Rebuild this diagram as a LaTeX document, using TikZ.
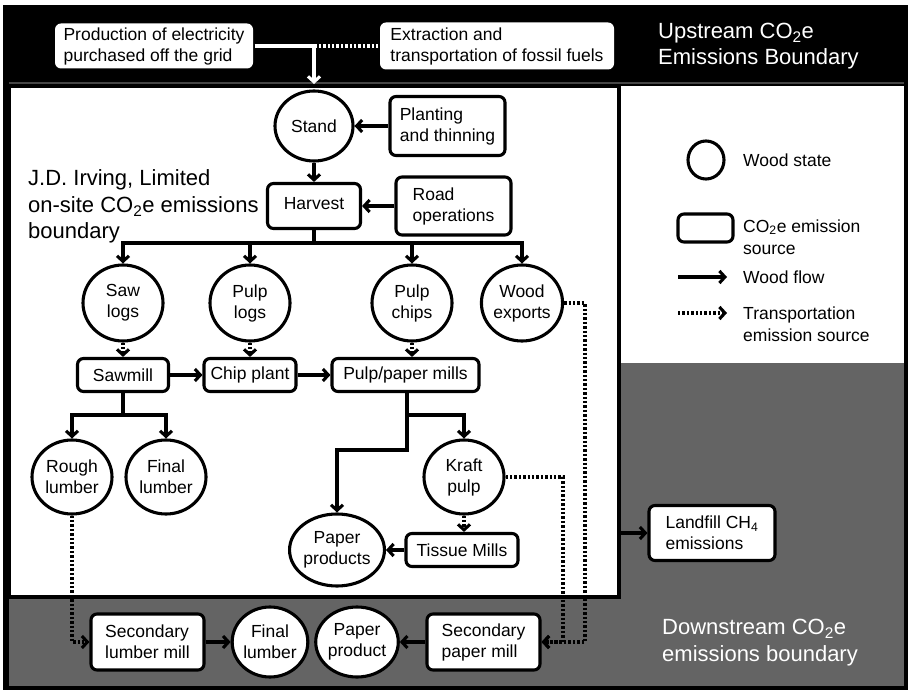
\documentclass[tikz,border=0pt]{standalone}
\usepackage{fontspec}
\setmainfont{Liberation Sans}
\usetikzlibrary{arrows.meta,shapes.geometric}
\definecolor{bggray}{RGB}{100,100,100}
\definecolor{bandline}{RGB}{70,70,70}
\begin{document}
\begin{tikzpicture}[x=1pt,y=-1pt,
  font=\fontsize{17.5}{21}\selectfont,
  lw/.style={line width=3.1pt},
  state/.style={ellipse, draw, lw, fill=white, minimum width=80pt, minimum height=76pt, inner sep=0pt, align=center},
  src/.style={rectangle, rounded corners=6pt, draw, lw, fill=white, inner sep=0pt, align=left},
  flow/.style={lw, -{Straight Barb[length=5.5pt,width=12pt]}},
  trans/.style={lw, dash pattern=on 2.4pt off 2pt, -{Straight Barb[length=5.5pt,width=12pt]}},
  bigtxt/.style={font=\fontsize{22}{26.5}\selectfont, align=left, inner sep=0pt, anchor=base west},
  legtxt/.style={anchor=west, inner sep=0pt, align=left, font=\fontsize{17.5}{22}\selectfont},
]
\useasboundingbox (0,0) rectangle (910,692);
% backgrounds
\fill[black] (3,5) rectangle (908,690);
\fill[bggray] (9,86) rectangle (904,686);
\fill[white] (619,86) rectangle (904,363);
\draw[bandline, line width=1.2pt] (9,83) -- (904,83);
\draw[line width=3.8pt, fill=white] (9,86) rectangle (619,597);

% upstream band
\node[src, draw=none, minimum width=198pt, minimum height=45pt] (prod) at (154,46) {Production of electricity\\purchased off the grid};
\node[src, draw=none, minimum width=234pt, minimum height=47pt] (extr) at (497,46) {Extraction and\\transportation of fossil fuels};
\node[bigtxt, text=white] (up) at (658,65) {Upstream CO\textsubscript{2}e\\Emissions Boundary};

% on-site
\node[bigtxt] (jdi) at (28,239) {J.D. Irving, Limited\\on-site CO\textsubscript{2}e emissions\\boundary};
\node[state, minimum width=78pt, minimum height=70pt] (stand) at (314,126) {Stand};
\node[src, minimum width=115pt, minimum height=59pt] (plant) at (447.5,126) {Planting\\and thinning};
\node[src, minimum width=93pt, minimum height=45pt] (harv) at (314,206) {\raisebox{5pt}{Harvest}};
\node[src, minimum width=115pt, minimum height=58pt] (road) at (453.5,206) {Road\\operations};

\node[state] (saw) at (123,303) {Saw\\logs};
\node[state] (plog) at (250,303) {Pulp\\logs};
\node[state] (pchip) at (412,303) {Pulp\\chips};
\node[state] (wexp) at (522,303) {Wood\\exports};

\node[src, minimum width=91pt, minimum height=33pt] (sawmill) at (123,375) {Sawmill};
\node[src, minimum width=92pt, minimum height=33pt] (chip) at (250,375) {Chip plant};
\node[src, minimum width=147pt, minimum height=33pt] (pulp) at (405.5,375) {Pulp/paper mills};

\node[state, minimum height=74pt] (rough) at (72,477) {Rough\\lumber};
\node[state, minimum height=74pt] (final1) at (166,477) {Final\\lumber};
\node[state, minimum height=74pt] (kraft) at (464,477) {Kraft\\pulp};
\node[state, minimum width=78pt, minimum height=72pt] (paperp) at (337,550) {Paper\\products};
\node[src, minimum width=112pt, minimum height=33pt] (tissue) at (462,550) {Tissue Mills};

\node[src, minimum width=126pt, minimum height=55pt] (landfill) at (712,533) {Landfill CH\textsubscript{4}\\emissions};

% downstream
\node[src, minimum width=113pt, minimum height=56pt] (seclum) at (147.5,642) {Secondary\\lumber mill};
\node[state, minimum width=72pt, minimum height=70pt] (final2) at (270,642) {Final\\lumber};
\node[state, minimum width=75pt, minimum height=70pt] (paper2) at (357,642) {Paper\\product};
\node[src, minimum width=113pt, minimum height=56pt] (secpap) at (483.5,642) {Secondary\\paper mill};
\node[bigtxt, text=white] (down) at (662,661) {Downstream CO\textsubscript{2}e\\emissions boundary};

% legend
\node[state, minimum width=36pt, minimum height=38pt] (lgc) at (706,160) {};
\node[legtxt] (lgct) at (743,160) {Wood state};
\node[src, minimum width=55pt, minimum height=28pt] (lgr) at (705.5,228) {};
\node[legtxt] (lgrt) at (743,237) {CO\textsubscript{2}e emission\\source};
\coordinate (lga1) at (678,277);
\coordinate (lga2) at (727,277);
\node[legtxt] (lgat) at (743,277) {Wood flow};
\coordinate (lgb1) at (678,313);
\coordinate (lgb2) at (727,313);
\node[legtxt] (lgbt) at (743,324) {Transportation\\emission source};
\draw[flow] (lga1) -- (lga2);
\draw[trans] (lgb1) -- (lgb2);

% connectors upstream
\coordinate (elec) at (314,84);
\draw[flow, white] (prod.east) -| (elec);
\draw[white, lw, dash pattern=on 2.4pt off 2pt] (extr.west) -- (extr.west -| elec);

% on-site connectors
\draw[flow] (plant) -- (stand);
\draw[flow] (stand) -- (harv);
\draw[flow] (road) -- (harv);
\coordinate (bus) at (314,243);
\draw[lw] (harv.south) -- (bus);
\draw[flow] (bus) -| (saw);
\draw[flow] (bus) -| (plog);
\draw[flow] (bus) -| (pchip);
\draw[flow] (bus) -| (wexp);

\draw[trans] (saw) -- (sawmill);
\draw[trans] (plog) -- (chip);
\draw[trans] (pchip.south) -- (pchip.south |- pulp.north);
\draw[flow] (sawmill) -- (chip);
\draw[flow] (chip) -- (pulp);

\coordinate (sm) at (123,415);
\draw[lw] (sawmill.south) -- (sm);
\draw[flow] (sm) -| (rough);
\draw[flow] (sm) -| (final1);

\coordinate (pj1) at (407,415);
\coordinate (pj2) at (407,450);
\draw[flow] (pulp.south -| pj1) -- (pj2) -| (paperp);
\draw[flow] (pj1) -| (kraft);
\draw[trans] (kraft.south) -- (kraft.south |- tissue.north);
\draw[flow] (tissue) -- (paperp);

\coordinate (lf) at (621,533);
\draw[flow] (lf) -- (landfill);

% downstream connectors
\draw[flow] (seclum) -- (final2);
\draw[flow] (secpap) -- (paper2);
\draw[trans] (rough.south) |- (seclum.west);
\coordinate (k1) at (563,477);
\coordinate (k2) at (563,642);
\draw[trans] (kraft.east) -- (k1) -- (k2) -- (secpap.east);
\coordinate (w1) at (585,303);
\coordinate (w2) at (585,642);
\draw[trans] (wexp.east) -- (w1) -- (w2) -- (secpap.east);
\end{tikzpicture}
\end{document}
